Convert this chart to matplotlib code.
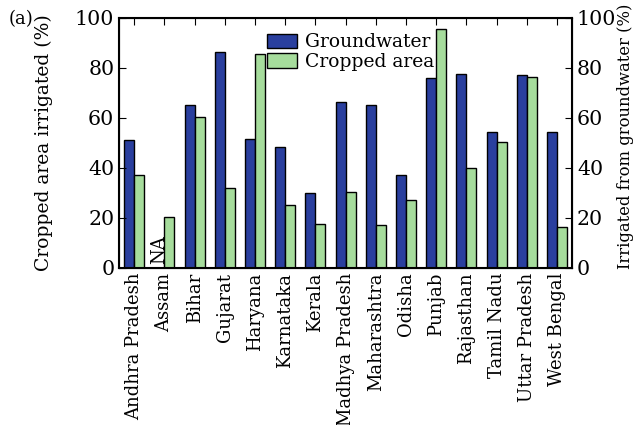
import numpy as np
import matplotlib
matplotlib.use('Agg')
import matplotlib.pyplot as plt

plt.rcParams['font.family'] = ['DejaVu Serif']

states = ['Andhra Pradesh', 'Assam', 'Bihar', 'Gujarat', 'Haryana', 'Karnataka',
          'Kerala', 'Madhya Pradesh', 'Maharashtra', 'Odisha', 'Punjab',
          'Rajasthan', 'Tamil Nadu', 'Uttar Pradesh', 'West Bengal']
groundwater = [51, np.nan, 65, 86.5, 51.5, 48.5, 30, 66.5, 65, 37, 76, 77.5, 54.5, 77, 54.5]
cropped = [37, 20.5, 60.5, 32, 85.5, 25, 17.5, 30.5, 17, 27, 95.5, 40, 50.5, 76.5, 16.5]

x = np.arange(len(states))
w = 0.33

fig = plt.figure(figsize=(6.37, 4.25), dpi=100)
ax = fig.add_axes([0.187, 0.37, 0.711, 0.588])
ax.bar(x - w/2, groundwater, w, color='#2a3f9e', edgecolor='black', linewidth=1, label='Groundwater')
ax.bar(x + w/2, cropped, w, color='#a6dc9c', edgecolor='black', linewidth=1, label='Cropped area')
ax.text(x[1] - w/2, 1.5, 'NA', rotation=90, ha='center', va='bottom', fontsize=13)

ax.set_xlim(-0.5, len(states) - 0.5)
ax.set_ylim(0, 100)
ax.set_yticks([0, 20, 40, 60, 80, 100])
ax.set_xticks(x)
ax.set_xticklabels(states, rotation=90, fontsize=13)
ax.tick_params(axis='y', labelsize=14.8, direction='in', length=5)
ax.tick_params(axis='x', direction='in', top=True, length=5)
ax.set_ylabel('Cropped area irrigated (%)', fontsize=13.5)
ax.yaxis.set_label_coords(-0.145, 0.5)
for s in ax.spines.values():
    s.set_linewidth(1.5)

ax2 = ax.twinx()
ax2.set_ylim(0, 100)
ax2.set_yticks([0, 20, 40, 60, 80, 100])
ax2.tick_params(axis='y', labelsize=14.8, direction='in', length=5)
ax2.set_ylabel('Irrigated from groundwater (%)', fontsize=11.8)
ax2.yaxis.set_label_coords(1.1, 0.525)

ax.legend(loc='upper left', bbox_to_anchor=(0.29, 1.005), frameon=False, fontsize=13.5,
          handlelength=1.6, handleheight=0.8, labelspacing=0.08, handletextpad=0.4)

fig.text(0.013, 0.955, '(a)', fontsize=13, va='center')

fig.savefig('out.png', dpi=100)
